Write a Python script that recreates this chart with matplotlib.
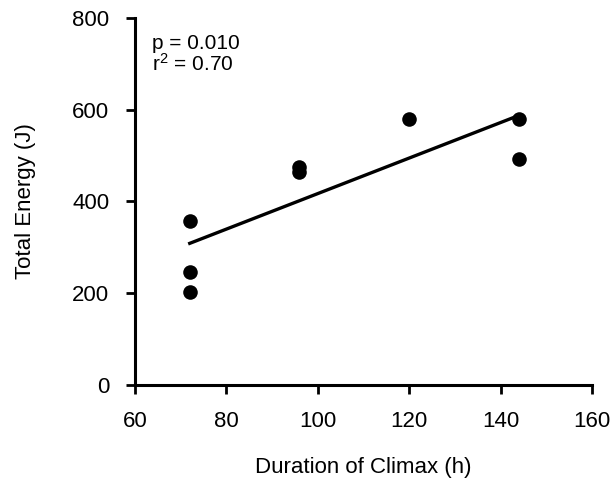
import numpy as np
import matplotlib
matplotlib.use("Agg")
import matplotlib.pyplot as plt

plt.rcParams['font.family'] = ['Liberation Sans', 'DejaVu Sans']
plt.rcParams['mathtext.fontset'] = 'custom'
plt.rcParams['mathtext.rm'] = 'Liberation Sans'

# Data
duration = [72, 72, 72, 96, 96, 120, 144, 144]
energy = [357, 247, 202, 475, 465, 580, 580, 492]

fig = plt.figure(figsize=(6.16, 4.83), dpi=100)
ax = fig.add_axes([0.219, 0.203, 0.742, 0.760])

ax.scatter(duration, energy, s=110, color='black', zorder=3, linewidths=0)

# Least-squares fit line
slope, intercept = np.polyfit(duration, energy, 1)
xs = np.array([min(duration), max(duration)])
ax.plot(xs, slope * xs + intercept, color='black', lw=2.4)

ax.set_xlim(60, 160)
ax.set_ylim(0, 800)
ax.set_xticks([60, 80, 100, 120, 140, 160])
ax.set_yticks([0, 200, 400, 600, 800])

for side in ['top', 'right']:
    ax.spines[side].set_visible(False)
for side in ['left', 'bottom']:
    ax.spines[side].set_linewidth(2.2)
ax.tick_params(direction='out', length=6.5, width=2, labelsize=16, pad=12)

ax.set_xlabel('Duration of Climax (h)', fontsize=16, labelpad=18)
ax.set_ylabel('Total Energy (J)', fontsize=16, labelpad=26)

ax.text(0.037, 0.955, 'p = 0.010\nr$\\mathrm{^2}$ = 0.70', transform=ax.transAxes,
        fontsize=15, va='top', ha='left', linespacing=0.95)

fig.savefig('out.png', dpi=100)
